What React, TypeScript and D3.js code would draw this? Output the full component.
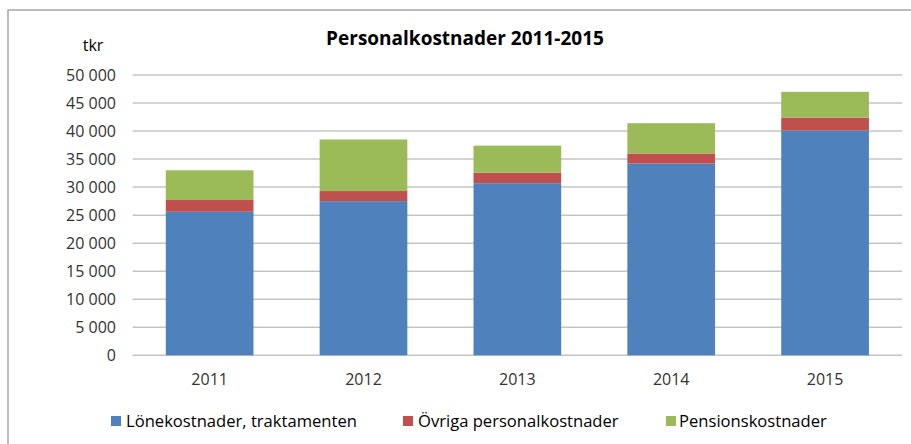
import React from "react";
import * as d3 from "d3";

const years = ["2011", "2012", "2013", "2014", "2015"];
const loneKostnader = [25600, 27500, 30700, 34200, 40100];
const ovrigaKostnader = [2100, 1800, 1900, 1800, 2300];
const pensionsKostnader = [5300, 9200, 4800, 5400, 4600];
const seriesNames = ["Lönekostnader, traktamenten", "Övriga personalkostnader", "Pensionskostnader"];
const seriesKeys = ["lone", "ovriga", "pension"];
const seriesColors = ["#4f81bd", "#c0504d", "#9bbb59"];
const yTicks = [0, 5000, 10000, 15000, 20000, 25000, 30000, 35000, 40000, 45000, 50000];
const title = "Personalkostnader 2011-2015";
const unitLabel = "tkr";

const W = 911;
const H = 444;
const FONT = "'Open Sans', sans-serif";

export default function App() {
  const rows = years.map((y, i) => ({
    year: y,
    lone: loneKostnader[i],
    ovriga: ovrigaKostnader[i],
    pension: pensionsKostnader[i],
  }));
  const stack = d3.stack<any>().keys(seriesKeys);
  const stacked = stack(rows);

  const x = d3.scaleBand<string>().domain(years).range([132.7, 902]).paddingInner(0.43).paddingOuter(0.215);
  const y = d3.scaleLinear().domain([0, 50000]).range([355.3, 75]);
  const fmt = (v: number) => d3.format(",")(v).replace(/,/g, " ");

  const legendItems = [
    { marker: 111, text: 126 },
    { marker: 403, text: 418 },
    { marker: 666, text: 679 },
  ];

  return (
    <svg width={W} height={H} style={{ position: "absolute", left: 0, top: 0, background: "#fff" }}>
      <rect x={8} y={10} width={1200} height={1200} fill="#fff" stroke="#a6a6a6" strokeWidth={1.5} />
      <text x={465} y={45} textAnchor="middle" fontFamily={FONT} fontWeight="bold" fontSize={19} fill="#000">
        {title}
      </text>
      <text x={93} y={51} textAnchor="middle" fontFamily={FONT} fontSize={16} fill="#000">
        {unitLabel}
      </text>
      {yTicks.map((t) => (
        <g key={t}>
          <line x1={132.7} x2={902} y1={y(t)} y2={y(t)} stroke="#c4c4c4" strokeWidth={1.5} />
          <text x={116} y={y(t)} dy="0.35em" textAnchor="end" fontFamily={FONT} fontSize={16} fill="#333">
            {fmt(t)}
          </text>
        </g>
      ))}
      {stacked.map((s, si) => (
        <g key={s.key} fill={seriesColors[si]}>
          {s.map((d: any, i: number) => (
            <rect
              key={i}
              x={x(years[i])}
              width={x.bandwidth()}
              y={y(d[1])}
              height={y(d[0]) - y(d[1])}
            />
          ))}
        </g>
      ))}
      {years.map((yr) => (
        <text
          key={yr}
          x={(x(yr) as number) + x.bandwidth() / 2}
          y={379.5}
          dy="0.35em"
          textAnchor="middle"
          fontFamily={FONT}
          fontSize={16}
          fill="#333"
        >
          {yr}
        </text>
      ))}
      {seriesNames.map((n, i) => (
        <g key={n}>
          <rect x={legendItems[i].marker} y={416} width={10} height={10} fill={seriesColors[i]} />
          <text x={legendItems[i].text} y={421} dy="0.35em" fontFamily={FONT} fontSize={16.6} fill="#000">
            {n}
          </text>
        </g>
      ))}
    </svg>
  );
}
